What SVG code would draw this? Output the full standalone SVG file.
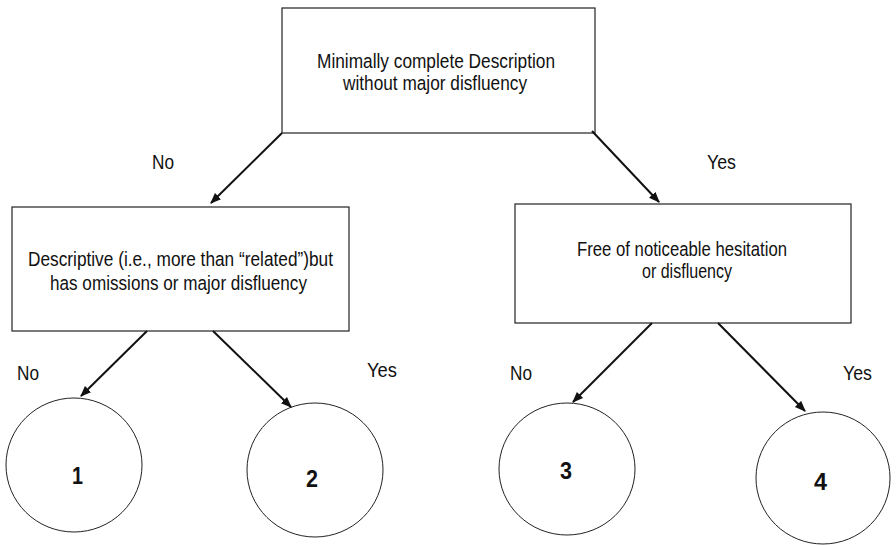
<svg xmlns="http://www.w3.org/2000/svg" width="896" height="545" viewBox="0 0 896 545">
  <style>
    .box { fill: #fff; stroke: #222; stroke-width: 1.2; }
    .leaf { fill: #fff; stroke: #222; stroke-width: 1; }
    .t { font-family: "Liberation Sans", Arial, sans-serif; font-size: 20.5px; fill: #111; }
    .num { font-family: "Liberation Sans", Arial, sans-serif; font-size: 24px; font-weight: bold; fill: #111; }
    .edge { stroke: #111; stroke-width: 2; fill: none; marker-end: url(#head); }
  </style>
  <defs>
    <marker id="head" viewBox="0 0 10 10" refX="9" refY="5" markerWidth="5.5" markerHeight="5.5" orient="auto" markerUnits="strokeWidth">
      <path d="M0,1 L10,5 L0,9 z" fill="#111"/>
    </marker>
  </defs>
  <rect width="896" height="545" fill="#fff"/>

  <!-- decision nodes -->
  <g id="root">
    <rect class="box" x="282" y="8" width="313" height="125"/>
    <text class="t" x="317" y="68" textLength="238" lengthAdjust="spacingAndGlyphs">Minimally complete Description</text>
    <text class="t" x="343" y="90" textLength="184" lengthAdjust="spacingAndGlyphs">without major disfluency</text>
  </g>
  <g id="descriptive">
    <rect class="box" x="12" y="207" width="337" height="124"/>
    <text class="t" x="28" y="266" textLength="305" lengthAdjust="spacingAndGlyphs">Descriptive (i.e., more than “related”)but</text>
    <text class="t" x="50" y="290" textLength="257" lengthAdjust="spacingAndGlyphs">has omissions or major disfluency</text>
  </g>
  <g id="fluent">
    <rect class="box" x="515" y="204" width="336" height="119"/>
    <text class="t" x="577" y="256" textLength="210" lengthAdjust="spacingAndGlyphs">Free of noticeable hesitation</text>
    <text class="t" x="642" y="278" textLength="90" lengthAdjust="spacingAndGlyphs">or disfluency</text>
  </g>

  <!-- score leaves -->
  <g id="score1">
    <ellipse class="leaf" cx="74" cy="465" rx="68" ry="67"/>
    <text class="num" x="72" y="484" textLength="11" lengthAdjust="spacingAndGlyphs">1</text>
  </g>
  <g id="score2">
    <ellipse class="leaf" cx="315" cy="470" rx="68" ry="67"/>
    <text class="num" x="306" y="487" textLength="12" lengthAdjust="spacingAndGlyphs">2</text>
  </g>
  <g id="score3">
    <ellipse class="leaf" cx="567" cy="469" rx="68" ry="66"/>
    <text class="num" x="560" y="479" textLength="12" lengthAdjust="spacingAndGlyphs">3</text>
  </g>
  <g id="score4">
    <ellipse class="leaf" cx="823" cy="478" rx="67" ry="66"/>
    <text class="num" x="814" y="490" textLength="13" lengthAdjust="spacingAndGlyphs">4</text>
  </g>

  <!-- connectors and branch labels -->
  <g id="connectors">
    <line class="edge" x1="282" y1="133" x2="211" y2="203"/>
    <line class="edge" x1="592" y1="131" x2="659" y2="202"/>
    <line class="edge" x1="147" y1="331" x2="81" y2="396"/>
    <line class="edge" x1="213" y1="331" x2="291" y2="407"/>
    <line class="edge" x1="652" y1="323" x2="573" y2="402"/>
    <line class="edge" x1="718" y1="323" x2="805" y2="411"/>
    <text class="t" x="152" y="169" textLength="22" lengthAdjust="spacingAndGlyphs">No</text>
    <text class="t" x="707" y="169" textLength="29" lengthAdjust="spacingAndGlyphs">Yes</text>
    <text class="t" x="17" y="380" textLength="22" lengthAdjust="spacingAndGlyphs">No</text>
    <text class="t" x="367" y="377" textLength="30" lengthAdjust="spacingAndGlyphs">Yes</text>
    <text class="t" x="510" y="380" textLength="22" lengthAdjust="spacingAndGlyphs">No</text>
    <text class="t" x="843" y="380" textLength="29" lengthAdjust="spacingAndGlyphs">Yes</text>
  </g>
</svg>
